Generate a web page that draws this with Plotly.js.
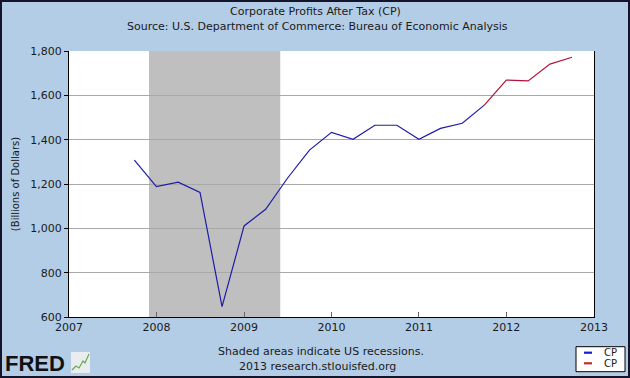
<!DOCTYPE html>
<html>
<head>
<meta charset="utf-8">
<script src="https://cdn.plot.ly/plotly-3.0.1.min.js"></script>
<style>
html,body{margin:0;padding:0;background:#b4cde6;}
#chart{width:626px;height:374px;border:2px solid #14142a;}
</style>
</head>
<body>
<div id="chart"></div>
<script>
// Quarterly observations (quarter start dates), billions of dollars
const blueDates = ['2007-10-01','2008-01-01','2008-04-01','2008-07-01','2008-10-01',
  '2009-01-01','2009-04-01','2009-07-01','2009-10-01','2010-01-01','2010-04-01',
  '2010-07-01','2010-10-01','2011-01-01','2011-04-01','2011-07-01','2011-10-01'];
const blueValues = [1308, 1188, 1208, 1162, 647, 1011, 1086, 1226, 1353, 1433, 1402,
  1465, 1465, 1402, 1451, 1474, 1556];
const redDates = ['2011-10-01','2012-01-01','2012-04-01','2012-07-01','2012-10-01'];
const redValues = [1556, 1669, 1665, 1741, 1772];
const recessionStart = '2007-12-01';
const recessionEnd = '2009-06-01';
const seriesNames = ['CP', 'CP'];
const seriesColors = ['#1c1ca8', '#b3123a'];
const legendColors = ['#1a1ad0', '#c82828'];
const titleLines = ['Corporate Profits After Tax (CP)',
  'Source: U.S. Department of Commerce: Bureau of Economic Analysis'];
const yTitle = '(Billions of Dollars)';
const footLines = ['Shaded areas indicate US recessions.', '2013 research.stlouisfed.org'];

const font = 'DejaVu Sans, Verdana, sans-serif';
const txt = {family: font, size: 11, color: '#1a1a1a'};

const traces = [
  {x: blueDates, y: blueValues, type: 'scatter', mode: 'lines', name: seriesNames[0],
   line: {color: seriesColors[0], width: 1.2}},
  {x: redDates, y: redValues, type: 'scatter', mode: 'lines', name: seriesNames[1],
   line: {color: seriesColors[1], width: 1.2}}
];

// paper-coordinate helpers for decoration placement (page pixels -> paper)
const px = p => (p - 69) / 525;
const py = p => (317 - p) / 266;

const legendRows = [352.7, 363.3];
const legendShapes = legendRows.map((r, i) => ({
  type: 'line', xref: 'paper', yref: 'paper', x0: px(584), x1: px(592), y0: py(r), y1: py(r),
  line: {color: legendColors[i], width: 2.2}
}));
const legendLabels = legendRows.map((r, i) => ({
  text: seriesNames[i], xref: 'paper', yref: 'paper', x: px(602), y: py(r),
  xanchor: 'left', yanchor: 'middle', showarrow: false,
  font: {family: font, size: 10, color: '#1a1a1a'}
}));

const layout = {
  width: 626, height: 374,
  margin: {l: 67, r: 34, t: 49, b: 59, autoexpand: false},
  paper_bgcolor: '#b4cde6',
  plot_bgcolor: '#ffffff',
  font: txt,
  showlegend: false,
  xaxis: {
    type: 'date', range: ['2007-01-01', '2013-01-01'],
    tick0: '2007-01-01', dtick: 'M12', tickformat: '%Y',
    ticks: 'inside', ticklen: 5, tickcolor: '#666666',
    showgrid: false, showline: true, linecolor: '#000000', linewidth: 1,
    zeroline: false, tickfont: txt
  },
  yaxis: {
    range: [600, 1800], dtick: 200, tickformat: ',d',
    ticks: 'outside', ticklen: 4, tickcolor: '#000000',
    showgrid: true, gridcolor: '#a8a8a8', gridwidth: 1,
    showline: true, linecolor: '#000000', linewidth: 1, mirror: true,
    zeroline: false, tickfont: txt,
    title: {text: yTitle, standoff: 8, font: {family: font, size: 10, color: '#1a1a1a'}}
  },
  shapes: [
    {type: 'rect', xref: 'x', yref: 'paper', x0: recessionStart, x1: recessionEnd, y0: 0, y1: 1,
     fillcolor: '#bfbfbf', line: {width: 0}, layer: 'between'},
    {type: 'rect', xref: 'paper', yref: 'paper', x0: px(71), x1: px(90), y0: py(373), y1: py(352),
     fillcolor: '#e9edf0', line: {width: 0}},
    {type: 'path', xref: 'paper', yref: 'paper',
     path: `M ${px(72)} ${py(370)} L ${px(76)} ${py(366)} L ${px(79)} ${py(368)} L ${px(83)} ${py(361)} L ${px(85)} ${py(363)} L ${px(89)} ${py(354)}`,
     line: {color: '#6aa84f', width: 1.2}},
    {type: 'rect', xref: 'paper', yref: 'paper', x0: px(576), x1: px(625), y0: py(371.7), y1: py(346.7),
     fillcolor: '#ffffff', line: {color: '#000000', width: 1}}
  ].concat(legendShapes),
  annotations: [
    {text: titleLines[0], xref: 'paper', yref: 'paper', x: px(315), y: py(12), xanchor: 'center', yanchor: 'middle',
     showarrow: false, font: txt},
    {text: titleLines[1], xref: 'paper', yref: 'paper', x: px(317), y: py(26), xanchor: 'center', yanchor: 'middle',
     showarrow: false, font: txt},
    {text: footLines[0], xref: 'paper', yref: 'paper', x: px(321), y: py(351), xanchor: 'center', yanchor: 'middle',
     showarrow: false, font: txt},
    {text: footLines[1], xref: 'paper', yref: 'paper', x: px(317), y: py(366), xanchor: 'center', yanchor: 'middle',
     showarrow: false, font: txt},
    {text: '<b>FRED</b>', xref: 'paper', yref: 'paper', x: px(35), y: py(363), xanchor: 'center', yanchor: 'middle',
     showarrow: false, font: {family: 'Liberation Sans, Arial, sans-serif', size: 22, color: '#111111'}}
  ].concat(legendLabels)
};

Plotly.newPlot('chart', traces, layout, {displayModeBar: false, staticPlot: true});
</script>
</body>
</html>
